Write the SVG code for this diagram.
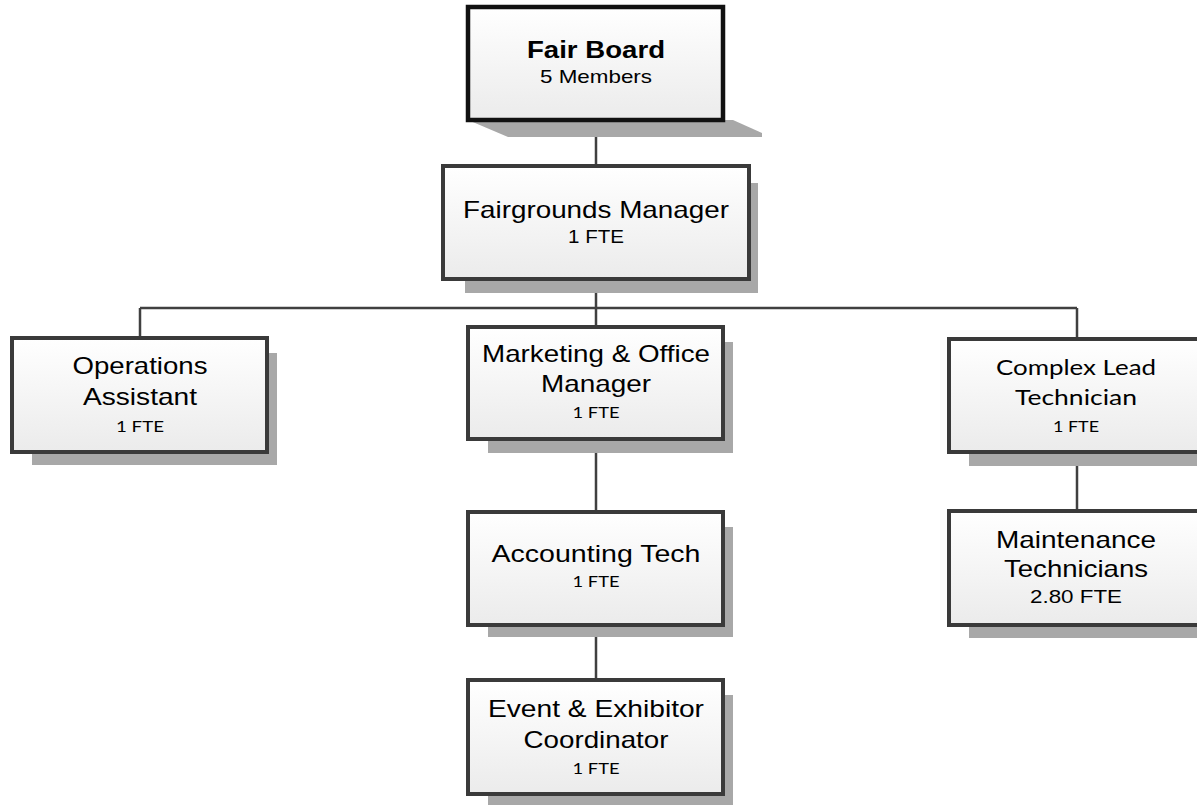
<svg xmlns="http://www.w3.org/2000/svg" width="1197" height="805" viewBox="0 0 1197 805">
<defs>
<linearGradient id="g" x1="0" y1="0" x2="0" y2="1">
<stop offset="0" stop-color="#ffffff"/>
<stop offset="1" stop-color="#ebebeb"/>
</linearGradient>
<style>
.box{fill:url(#g);stroke:#3a3a3a;stroke-width:4;}
.top{fill:url(#g);stroke:#111;stroke-width:4.5;}
.sh{fill:#a8a8a8;}
.c{fill:none;stroke:#404040;stroke-width:2.5;}
.a{font-family:"Liberation Sans",Arial,sans-serif;text-anchor:middle;fill:#000;}
.k{font-family:Lato,"Noto Sans",sans-serif;text-anchor:middle;fill:#000;}
</style>
</defs>
<rect width="1197" height="805" fill="#fff"/>
<g id="connectors">
<path class="c" d="M596 120V166M596 279V308M140 308H1077M140 308V338M1077 308V339M596 308V327M596 439V512M596 625V680M1077 452V511"/>
</g>
<g id="fair-board">
<polygon class="sh" points="468,120 508,137 762,137 762,133 733,120"/>
<rect class="top" x="468" y="7" width="255" height="113"/>
<text class="a" x="596" y="58" font-size="23" font-weight="bold" textLength="138" lengthAdjust="spacingAndGlyphs">Fair Board</text>
<text class="a" x="596" y="83" font-size="19" textLength="112" lengthAdjust="spacingAndGlyphs">5 Members</text>
</g>
<g id="fairgrounds-manager">
<rect class="sh" x="465" y="183" width="293" height="110"/>
<rect class="box" x="443" y="166" width="306" height="113"/>
<text class="a" x="596" y="218" font-size="24" textLength="266" lengthAdjust="spacingAndGlyphs">Fairgrounds Manager</text>
<text class="a" x="596" y="243" font-size="18" textLength="56" lengthAdjust="spacingAndGlyphs">1 FTE</text>
</g>
<g id="operations-assistant">
<rect class="sh" x="32" y="353" width="245" height="112"/>
<rect class="box" x="12" y="338" width="255" height="114"/>
<text class="a" x="140" y="374" font-size="24" textLength="135" lengthAdjust="spacingAndGlyphs">Operations</text>
<text class="a" x="140" y="405" font-size="24" textLength="114" lengthAdjust="spacingAndGlyphs">Assistant</text>
<text class="k" x="140" y="432" font-size="15" textLength="48" lengthAdjust="spacingAndGlyphs">1 FTE</text>
</g>
<g id="marketing-office-manager">
<rect class="sh" x="488" y="342" width="245" height="111"/>
<rect class="box" x="468" y="327" width="255" height="112"/>
<text class="a" x="596" y="362" font-size="24" textLength="228" lengthAdjust="spacingAndGlyphs">Marketing &amp; Office</text>
<text class="a" x="596" y="392" font-size="24" textLength="110" lengthAdjust="spacingAndGlyphs">Manager</text>
<text class="k" x="596" y="418" font-size="15" textLength="47" lengthAdjust="spacingAndGlyphs">1 FTE</text>
</g>
<g id="complex-lead-technician">
<rect class="sh" x="969" y="354" width="245" height="112"/>
<rect class="box" x="949" y="339" width="255" height="113"/>
<text class="k" x="1076" y="375" font-size="22" textLength="160" lengthAdjust="spacingAndGlyphs">Complex Lead</text>
<text class="k" x="1076" y="405" font-size="22" textLength="122" lengthAdjust="spacingAndGlyphs">Technician</text>
<text class="k" x="1076" y="432" font-size="15" textLength="46" lengthAdjust="spacingAndGlyphs">1 FTE</text>
</g>
<g id="accounting-tech">
<rect class="sh" x="488" y="527" width="245" height="110"/>
<rect class="box" x="468" y="512" width="255" height="113"/>
<text class="a" x="596" y="562" font-size="24" textLength="209" lengthAdjust="spacingAndGlyphs">Accounting Tech</text>
<text class="k" x="596" y="587" font-size="15" textLength="47" lengthAdjust="spacingAndGlyphs">1 FTE</text>
</g>
<g id="maintenance-technicians">
<rect class="sh" x="969" y="526" width="245" height="112"/>
<rect class="box" x="949" y="511" width="255" height="114"/>
<text class="a" x="1076" y="548" font-size="24" textLength="160" lengthAdjust="spacingAndGlyphs">Maintenance</text>
<text class="a" x="1076" y="577" font-size="24" textLength="144" lengthAdjust="spacingAndGlyphs">Technicians</text>
<text class="a" x="1076" y="603" font-size="19" textLength="92" lengthAdjust="spacingAndGlyphs">2.80 FTE</text>
</g>
<g id="event-exhibitor-coordinator">
<rect class="sh" x="488" y="695" width="245" height="112"/>
<rect class="box" x="468" y="680" width="255" height="114"/>
<text class="a" x="596" y="717" font-size="24" textLength="216" lengthAdjust="spacingAndGlyphs">Event &amp; Exhibitor</text>
<text class="a" x="596" y="748" font-size="24" textLength="145" lengthAdjust="spacingAndGlyphs">Coordinator</text>
<text class="k" x="596" y="774" font-size="15" textLength="47" lengthAdjust="spacingAndGlyphs">1 FTE</text>
</g>
</svg>
